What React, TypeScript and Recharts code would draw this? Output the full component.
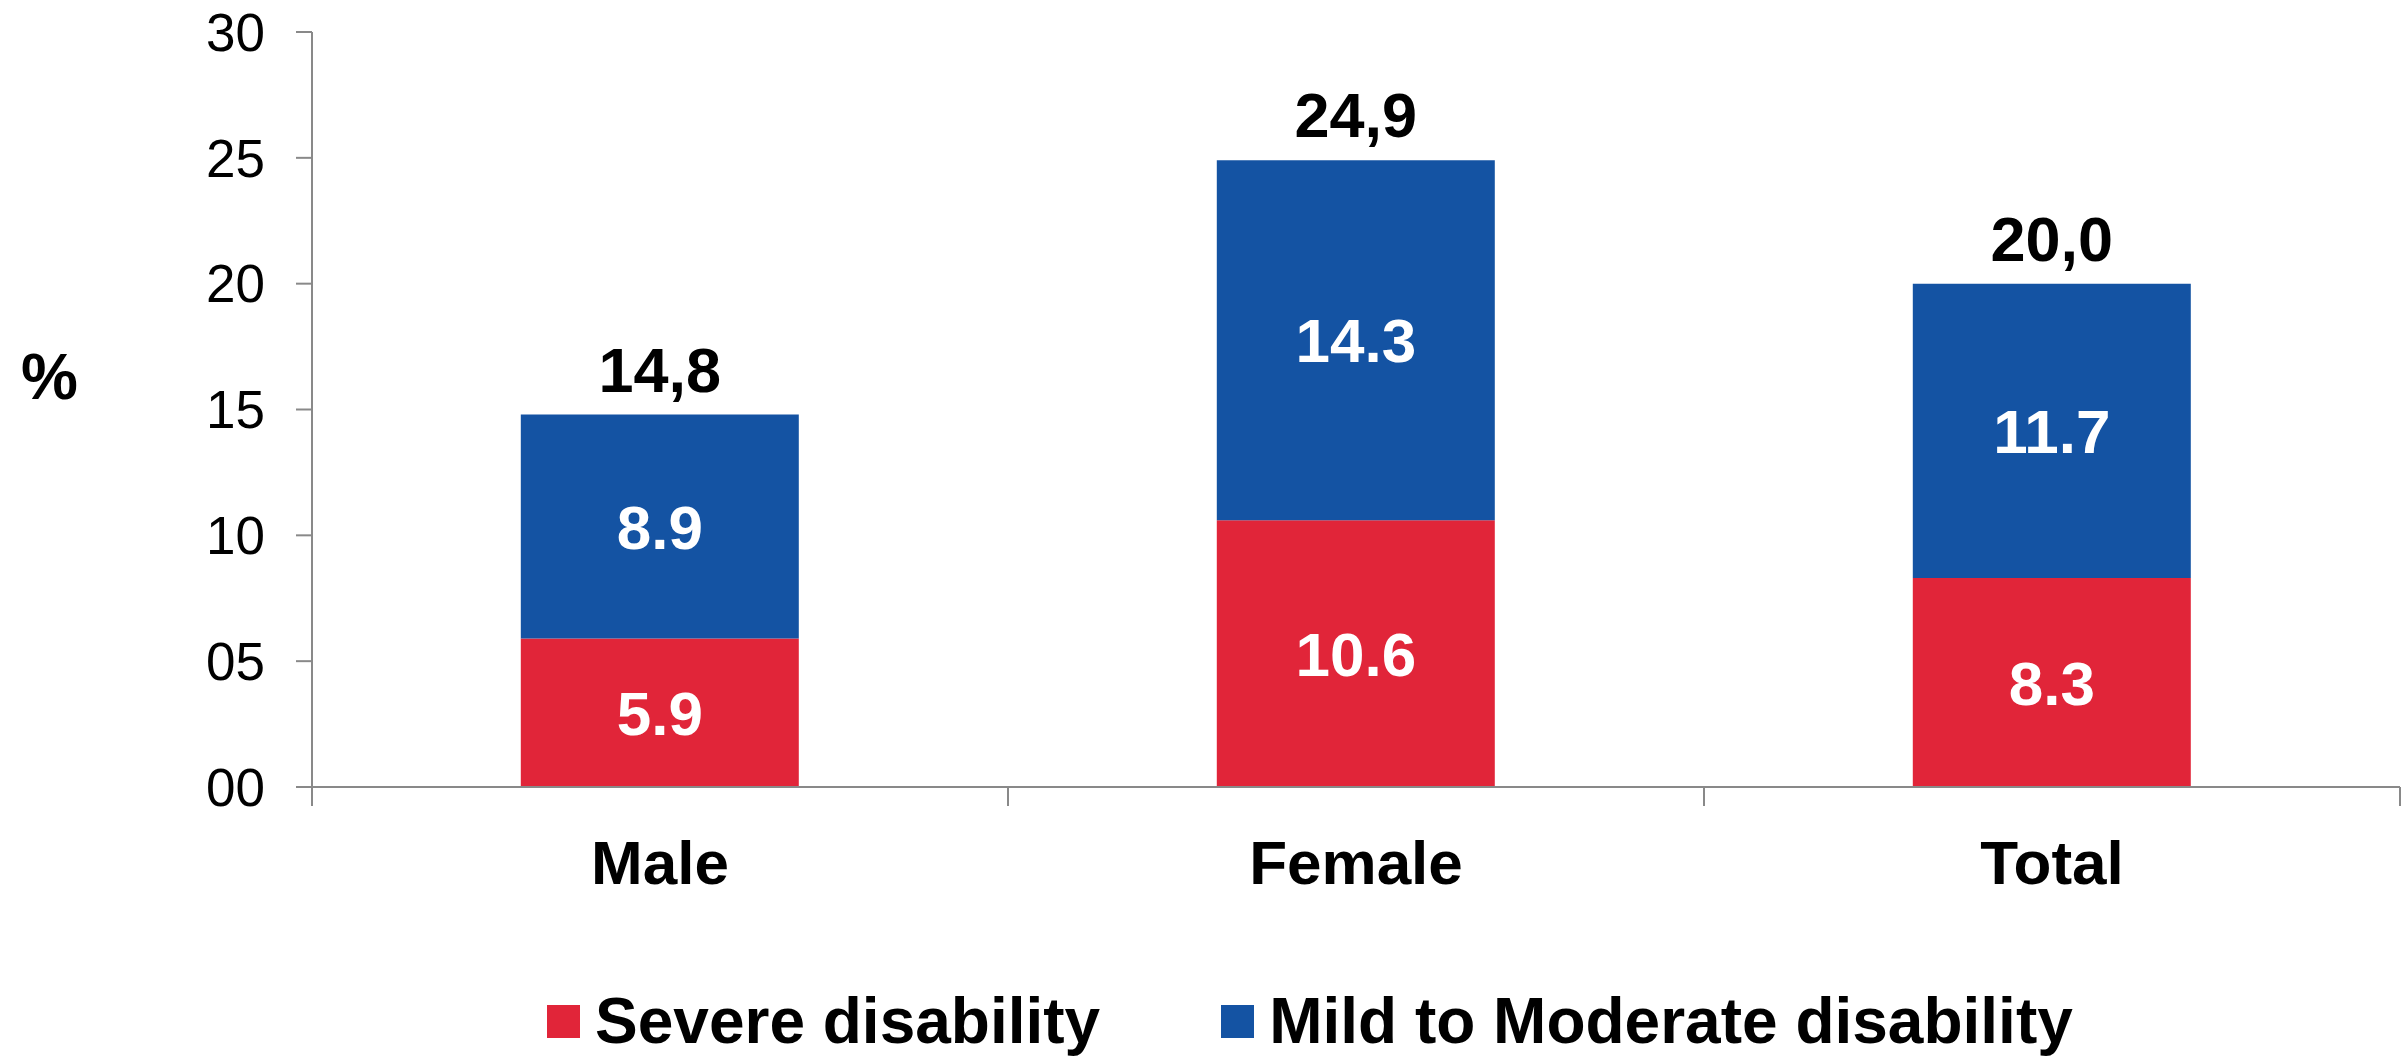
import { BarChart, Bar, XAxis, YAxis, Legend, LabelList } from 'recharts';

const categories = ['Male', 'Female', 'Total'];
const severe = [5.9, 10.6, 8.3];
const mild = [8.9, 14.3, 11.7];
const totals = [14.8, 24.9, 20.0];
const yTicks = [0, 5, 10, 15, 20, 25, 30];
const seriesOrder = ['severe', 'mild'];

const RED = '#E12539';
const BLUE = '#1453A3';
const AXIS = '#898989';
const FONT = '"Liberation Sans", Arial, sans-serif';

const X_TICK_MARGIN = 53;
const X_TICK_LEN = 19;

const data = categories.map((name, i) => ({
  name,
  severe: severe[i],
  mild: mild[i],
  total: totals[i],
}));

// category label + tick marks on the category boundaries
const CategoryTick = (props: any) => {
  const { x, y, payload, index, visibleTicksCount, width } = props;
  const half = payload?.offset || (width / (visibleTicksCount || 1)) / 2;
  const axisY = y - X_TICK_MARGIN;
  return (
    <g>
      <line x1={x - half} x2={x - half} y1={axisY} y2={axisY + X_TICK_LEN} stroke={AXIS} strokeWidth={2} />
      {index === visibleTicksCount - 1 && (
        <line x1={x + half} x2={x + half} y1={axisY} y2={axisY + X_TICK_LEN} stroke={AXIS} strokeWidth={2} />
      )}
      <text x={x} y={y} dy="0.71em" textAnchor="middle" fill="#000" fontSize={62} fontWeight="bold" fontFamily={FONT}>
        {payload.value}
      </text>
    </g>
  );
};

const LegendContent = ({ payload }: any) => {
  const items = seriesOrder
    .map(k => (payload || []).find((p: any) => p.dataKey === k))
    .filter(Boolean);
  return (
    <div style={{ display: 'flex', alignItems: 'center', height: 70, paddingLeft: 547, fontFamily: FONT }}>
      {items.map((p: any, i: number) => (
        <div key={p.value} style={{ display: 'flex', alignItems: 'center', marginRight: i === 0 ? 121 : 0 }}>
          <span style={{ width: 33, height: 33, background: p.color, display: 'inline-block', marginRight: 15 }} />
          <span style={{ fontSize: 64, fontWeight: 'bold', color: '#000', lineHeight: 1 }}>{p.value}</span>
        </div>
      ))}
    </div>
  );
};

export default function App() {
  return (
    <div style={{ position: 'absolute', left: 0, top: 0, background: '#fff' }}>
      <BarChart
        width={2404}
        height={1056}
        data={data}
        margin={{ top: 32, right: 4, left: 0, bottom: 0 }}
        barCategoryGap="30%"
      >
        <XAxis
          dataKey="name"
          axisLine={{ stroke: AXIS, strokeWidth: 2 }}
          tickLine={false}
          tickSize={0}
          tickMargin={X_TICK_MARGIN}
          height={199}
          interval={0}
          tick={<CategoryTick />}
        />
        <YAxis
          domain={[0, 30]}
          ticks={yTicks}
          width={312}
          tickSize={16}
          tickMargin={31}
          stroke={AXIS}
          strokeWidth={2}
          tickFormatter={(v: number) => String(v).padStart(2, '0')}
          tick={{ fill: '#000', fontSize: 53, fontFamily: FONT }}
          label={{ value: '%', position: 'insideLeft', offset: 21, dy: -33, fill: '#000', fontSize: 64, fontWeight: 'bold', fontFamily: FONT }}
        />
        <Legend verticalAlign="bottom" content={<LegendContent />} wrapperStyle={{ left: 0, width: 2404 }} />
        <Bar dataKey="severe" name="Severe disability" stackId="a" fill={RED} isAnimationActive={false}>
          <LabelList dataKey="severe" position="center" fill="#fff" fontSize={62} fontWeight="bold" fontFamily={FONT} formatter={(v: any) => Number(v).toFixed(1)} />
        </Bar>
        <Bar dataKey="mild" name="Mild to Moderate disability" stackId="a" fill={BLUE} isAnimationActive={false}>
          <LabelList dataKey="mild" position="center" fill="#fff" fontSize={62} fontWeight="bold" fontFamily={FONT} formatter={(v: any) => Number(v).toFixed(1)} />
          <LabelList dataKey="total" position="top" offset={23} fill="#000" fontSize={63} fontWeight="bold" fontFamily={FONT} formatter={(v: any) => Number(v).toFixed(1).replace('.', ',')} />
        </Bar>
      </BarChart>
    </div>
  );
}
